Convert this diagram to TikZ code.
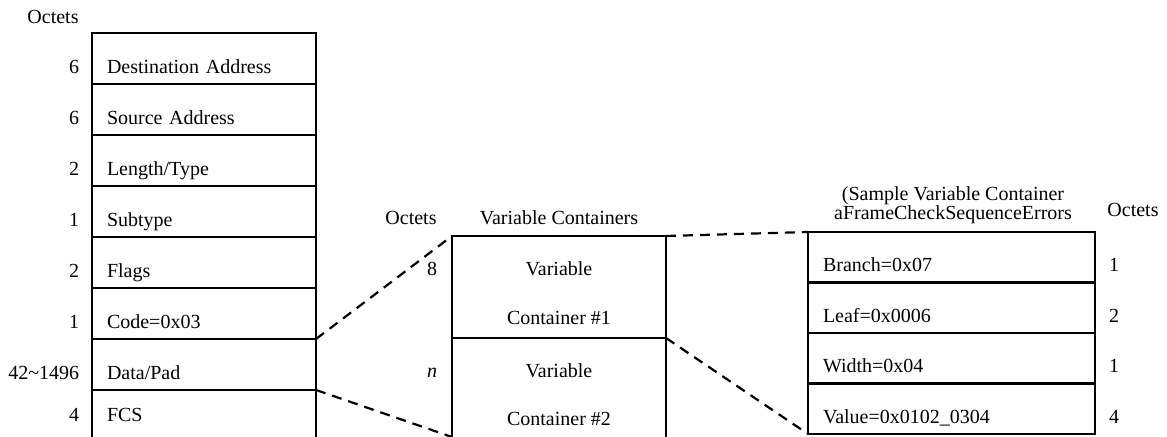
\documentclass[tikz,border=0pt]{standalone}
\usepackage{fontspec}
\setmainfont{Liberation Serif}
\usetikzlibrary{positioning}
\begin{document}
\begin{tikzpicture}[
x=0.5pt, y=-0.5pt,
field/.style={rectangle, draw=black, line width=1.2pt, outer sep=0pt, inner xsep=7.5pt, inner ysep=0pt, text width=97pt, align=left, minimum height=25.5pt, text height=20.25pt, text depth=5.25pt},
openfield/.style={field, draw=none},
item/.style={field, text width=128.5pt, minimum height=25.25pt, text height=20pt, text depth=5.25pt},
container/.style={rectangle, draw=black, line width=1.2pt, outer sep=0pt, minimum width=107pt, minimum height=51pt, inner sep=0pt},
side/.style={draw=black, line width=1.2pt},
octets/.style={inner sep=0pt, anchor=base},
heading/.style={inner sep=0pt, anchor=base},
zoomline/.style={draw=black, line width=1.1pt, dash pattern=on 5pt off 3.5pt},
]
\useasboundingbox (0,0) rectangle (1167,437);

% frame
\node[octets] (frame-octets) at (53,24) {Octets};
\node[field, anchor=north west] (dest) at (92,33) {Destination Address};
\node[field, below=0pt of dest] (src) {Source Address};
\node[field, below=0pt of src] (lentype) {Length/Type};
\node[field, below=0pt of lentype] (subtype) {Subtype};
\node[field, below=0pt of subtype] (flags) {Flags};
\node[field, below=0pt of flags] (code) {Code=0x03};
\node[field, below=0pt of code] (data) {Data/Pad};
\node[openfield, below=0pt of data, minimum height=23.5pt, text height=16pt, text depth=7.5pt] (fcs) {FCS};
\draw[side] (fcs.north west) -- (fcs.south west) (fcs.north east) -- (fcs.south east);

\node[octets, anchor=base east] (dest-len) at ([xshift=-6.25pt]dest.base west) {6};
\node[octets, anchor=base east] (src-len) at ([xshift=-6.25pt]src.base west) {6};
\node[octets, anchor=base east] (lentype-len) at ([xshift=-6.25pt]lentype.base west) {2};
\node[octets, anchor=base east] (subtype-len) at ([xshift=-6.25pt]subtype.base west) {1};
\node[octets, anchor=base east] (flags-len) at ([xshift=-6.25pt]flags.base west) {2};
\node[octets, anchor=base east] (code-len) at ([xshift=-6.25pt]code.base west) {1};
\node[octets, anchor=base east] (data-len) at ([xshift=-6.25pt]data.base west) {42\textasciitilde1496};
\node[octets, anchor=base east] (fcs-len) at ([xshift=-6.25pt]fcs.base west) {4};

% variable containers
\node[container, anchor=north west] (vc1) at (452,236) {};
\node[container, draw=none, below=0pt of vc1, minimum height=49.5pt] (vc2) {};
\draw[side] (vc2.north west) -- (vc2.south west) (vc2.north east) -- (vc2.south east);

\node[heading] (vc-title) at ([yshift=5.5pt]vc1.north) {Variable Containers};
\node[heading] (vc-octets) at ([xshift=-20.5pt,yshift=5.5pt]vc1.north west) {Octets};
\node[heading] (vc1-top) at ([yshift=-20pt]vc1.north) {Variable};
\node[heading] (vc1-bot) at ([yshift=-44.5pt]vc1.north) {Container \#1};
\node[heading] (vc2-top) at ([yshift=-20pt]vc2.north) {Variable};
\node[heading] (vc2-bot) at ([yshift=-44pt]vc2.north) {Container \#2};
\node[octets] (vc1-len) at ([xshift=-10pt,yshift=-20pt]vc1.north west) {8};
\node[octets] (vc2-len) at ([xshift=-10pt,yshift=-20pt]vc2.north west) {\textit{n}};

% sample container
\node[align=center, inner sep=0pt, anchor=south] (sample) at (953,224) {(Sample Variable Container\\[-2.5pt]aFrameCheckSequenceErrors};
\node[octets] (sample-octets) at (1133,217) {Octets};
\node[item, anchor=north west] (branch) at (808,232) {Branch=0x07};
\node[item, below=0pt of branch] (leaf) {Leaf=0x0006};
\node[item, below=0pt of leaf] (wid) {Width=0x04};
\node[item, below=0pt of wid] (value) {Value=0x0102\_0304};

\node[octets] (branch-len) at ([xshift=9.5pt]branch.base east) {1};
\node[octets] (leaf-len) at ([xshift=9.5pt]leaf.base east) {2};
\node[octets] (wid-len) at ([xshift=9.5pt]wid.base east) {1};
\node[octets] (value-len) at ([xshift=9.5pt]value.base east) {4};

\draw[zoomline] (code.south east) -- (vc1.north west);
\draw[zoomline] (data.south east) -- (vc2.south west);
\draw[zoomline] (vc1.north east) -- (branch.north west);
\draw[zoomline] (vc1.south east) -- (value.south west);
\end{tikzpicture}
\end{document}
